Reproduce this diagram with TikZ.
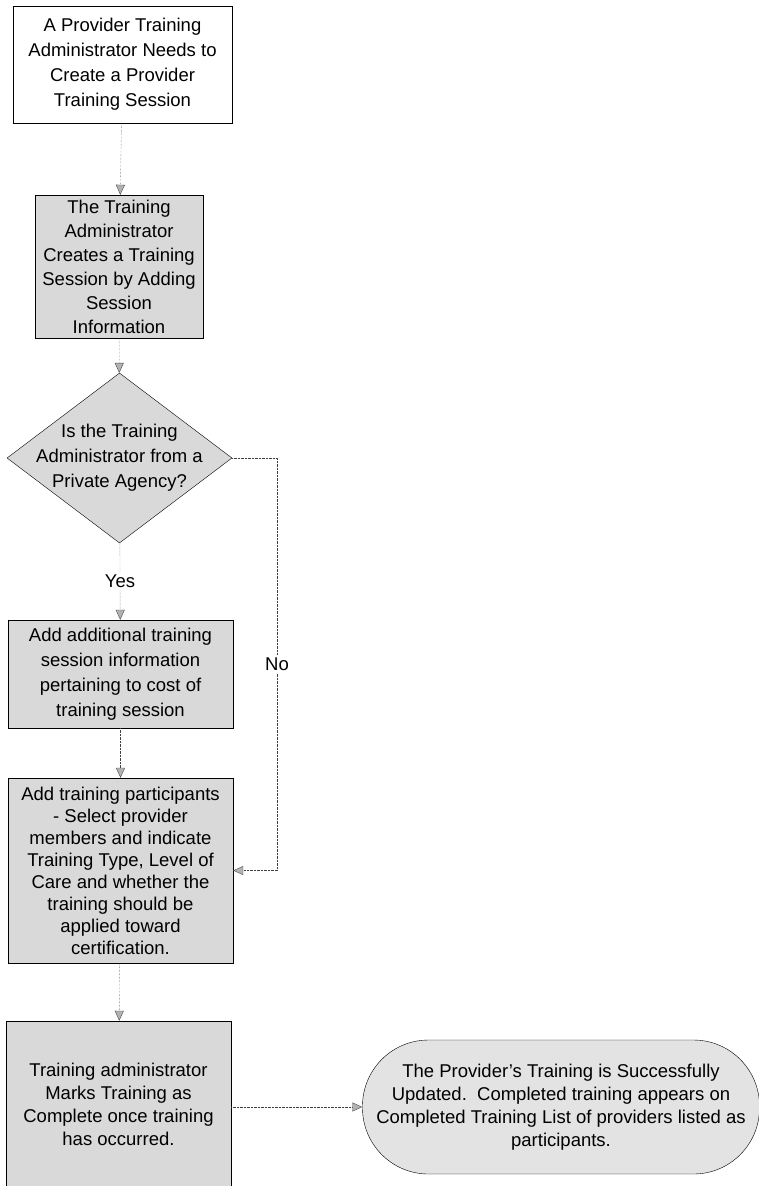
\documentclass[tikz,border=0pt]{standalone}
\usepackage{fontspec}
\setmainfont{Liberation Sans}
\usepackage{tikz}
\usetikzlibrary{shapes.geometric,positioning,calc}
\usetikzlibrary{arrows.meta}

\begin{document}
\begin{tikzpicture}[x=1pt,y=-1pt,
    every node/.style={font=\fontsize{18.5}{25}\selectfont, align=center},
    stepbox/.style={draw, rectangle, fill=gray!30, inner sep=0pt},
    decision/.style={draw, diamond, fill=gray!30, inner sep=0pt},
    endbox/.style={draw, rectangle, rounded corners=66pt, fill=gray!22, inner sep=0pt},
    flow/.style={densely dotted, draw=black!75, -{Triangle[length=10pt,width=9pt,fill=gray!60,color=black!70]}}]

    \useasboundingbox (0,0) rectangle (759,1186);

    % Boxes down the left
    \node[draw, rectangle, fill=white, inner sep=0pt, minimum width=219pt, minimum height=117pt] (start) at (122.5,64.5)
        {A Provider Training\\Administrator Needs to\\Create a Provider\\Training Session};
    \node[stepbox, minimum width=168pt, minimum height=143pt, font=\fontsize{18.5}{24}\selectfont] (create) at (119,266.5)
        {The Training\\Administrator\\Creates a Training\\Session by Adding\\Session\\Information};
    \node[decision, minimum width=225pt, minimum height=170pt,
        label={[align=center]center:Is the Training\\Administrator from a\\Private Agency?}] (private) at (119.5,458) {};
    \node[stepbox, minimum width=225pt, minimum height=108pt] (cost) at (120.5,674)
        {Add additional training\\session information\\pertaining to cost of\\training session};
    \node[stepbox, minimum width=225pt, minimum height=185pt, font=\fontsize{18.5}{22}\selectfont] (participants) at (120.5,870.5)
        {Add training participants\\- Select provider\\members and indicate\\Training Type, Level of\\Care and whether the\\training should be\\applied toward\\certification.};
    \node[stepbox, minimum width=225pt, minimum height=166pt, font=\fontsize{18.5}{23}\selectfont] (complete) at (118.5,1104)
        {Training administrator\\Marks Training as\\Complete once training\\has occurred.};

    % End state
    \node[endbox, minimum width=397pt, minimum height=134pt, font=\fontsize{18.5}{23}\selectfont] (done) at (561,1107)
        {The Provider's Training is Successfully\\Updated.\ \ Completed training appears on\\Completed Training List of providers listed as\\participants.};

    \coordinate (noturn) at (277,458);

    \draw[flow] (start) -- (create);
    \draw[flow] (create) -- (private);
    \draw[flow] (private) -- node[fill=white, inner sep=2pt] {Yes} (cost);
    \draw[flow] (cost) -- (participants);
    \draw[flow] (participants) -- (complete);

    % No branch
    \draw[flow] (private.east) -- (noturn) -- node[fill=white, inner sep=3pt] {No} (noturn |- participants.east) -- (participants.east);

    \draw[flow] (complete.east |- done.west) -- (done.west);
\end{tikzpicture}
\end{document}
